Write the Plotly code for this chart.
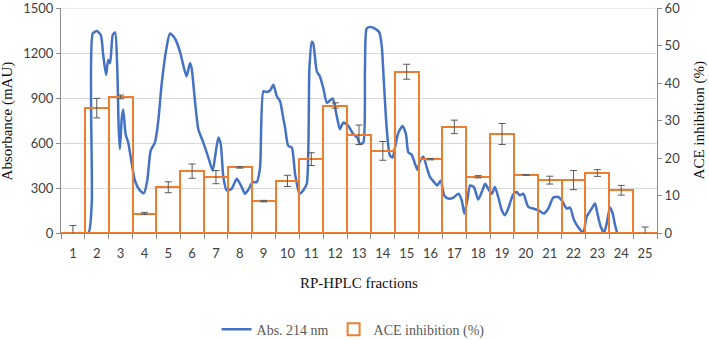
import plotly.graph_objects as go

# ---- data ----
fractions = list(range(1, 26))
ace_inhibition = [0.0, 33.3, 36.3, 5.2, 12.2, 16.5, 14.9, 17.5, 8.5, 13.9,
                  19.7, 34.0, 26.2, 21.9, 43.0, 19.7, 28.3, 15.0, 26.4, 15.5,
                  14.1, 14.1, 16.0, 11.4, 0.0]
ace_error = [2.0, 2.6, 0.5, 0.3, 1.45, 1.9, 1.75, 0.2, 0.2, 1.5,
             1.7, 0.7, 2.6, 2.5, 2.0, 0.2, 1.8, 0.3, 2.8, 0.1,
             1.05, 2.55, 0.9, 1.3, 1.6]

# chromatogram (x in fraction units, absorbance in mAU)
abs_x = [1.30, 1.65, 1.79, 1.83, 2.00, 2.17, 2.27, 2.39, 2.48, 2.56,
         2.67, 2.77, 2.86, 2.92, 2.97, 3.05, 3.11, 3.21, 3.32, 3.47,
         3.60, 3.81, 3.98, 4.12, 4.26, 4.44, 4.58, 4.72, 4.90, 5.07,
         5.28, 5.49, 5.66, 5.77, 5.91, 5.98, 6.12, 6.26, 6.47, 6.68,
         6.86, 6.96, 7.10, 7.20, 7.31, 7.45, 7.66, 7.87, 8.08, 8.22,
         8.36, 8.54, 8.71, 8.85, 8.99, 9.13, 9.27, 9.41, 9.55, 9.69,
         9.82, 9.90, 10.03, 10.18, 10.32, 10.50, 10.66, 10.81, 10.92, 11.02,
         11.08, 11.23, 11.36, 11.50, 11.65, 11.78, 11.90, 12.04, 12.20, 12.34,
         12.55, 12.76, 12.93, 13.04, 13.18, 13.25, 13.32, 13.46, 13.67, 13.85,
         13.95, 14.05, 14.16, 14.30, 14.41, 14.51, 14.65, 14.83, 14.97, 15.07,
         15.21, 15.35, 15.45, 15.56, 15.70, 15.84, 15.98, 16.15, 16.28, 16.43,
         16.57, 16.75, 16.96, 17.17, 17.31, 17.42, 17.54, 17.66, 17.82, 18.00,
         18.15, 18.29, 18.42, 18.57, 18.70, 18.84, 18.99, 19.12, 19.26, 19.47,
         19.61, 19.75, 19.89, 20.10, 20.31, 20.52, 20.76, 20.94, 21.15, 21.36,
         21.50, 21.71, 21.85, 22.02, 22.23, 22.41, 22.55, 22.76, 22.90, 23.00,
         23.14, 23.28, 23.39, 23.53, 23.64, 23.74, 23.83]
abs_y = [0, 0, 200, 1330, 1346, 1320, 1187, 1055, 1154, 1132,
         1320, 1337, 1099, 702, 560, 768, 824, 659, 603, 461,
         350, 284, 266, 350, 548, 603, 747, 989, 1209, 1330,
         1297, 1209, 1099, 1044, 1132, 1099, 879, 692, 603, 504,
         416, 504, 637, 593, 372, 284, 295, 361, 306, 262,
         289, 339, 339, 438, 945, 940, 950, 989, 912, 879,
         768, 702, 582, 570, 394, 262, 284, 328, 1099, 1275,
         1264, 1077, 1044, 967, 868, 883, 897, 802, 692, 736,
         714, 659, 637, 593, 603, 1099, 1363, 1374, 1363, 1337,
         1253, 989, 702, 515, 504, 570, 669, 714, 659, 537,
         522, 461, 421, 482, 509, 438, 372, 339, 317, 350,
         251, 229, 236, 262, 218, 130, 218, 317, 306, 223,
         273, 328, 295, 262, 306, 240, 152, 119, 163, 258,
         273, 251, 262, 174, 163, 152, 130, 163, 236, 240,
         218, 163, 170, 86, 31, 5, 108, 163, 196, 130,
         42, 2, 64, 170, 130, 53, 0]

abs_ticks = [0, 300, 600, 900, 1200, 1500]
ace_ticks = [0, 10, 20, 30, 40, 50, 60]

BLUE = "#4472C4"
ORANGE = "#ED7D31"
GRID = "#D9D9D9"
AXIS = "#8C8C8C"
TICKC = "#404040"
TICKFONT = dict(family="Lato, Liberation Sans, sans-serif", size=13, color=TICKC)
SERIF = "Liberation Serif, Times New Roman, serif"

fig = go.Figure()

fig.add_trace(go.Bar(
    x=fractions, y=ace_inhibition, yaxis="y2", name="ACE inhibition (%)",
    marker=dict(color="rgba(0,0,0,0)", line=dict(color=ORANGE, width=2)),
    error_y=dict(type="data", array=ace_error, visible=True,
                 color="#595959", thickness=1, width=3.5),
))

fig.add_trace(go.Scatter(
    x=abs_x, y=abs_y, mode="lines", name="Abs. 214 nm",
    line=dict(color=BLUE, width=2.5, shape="spline", smoothing=0.6),
))

fig.update_layout(
    width=709, height=340,
    margin=dict(l=61, r=52, t=8, b=107, autoexpand=False),
    plot_bgcolor="white", paper_bgcolor="white",
    bargap=0,
    showlegend=True,
    legend=dict(orientation="h", x=0.49, xanchor="center", y=-0.43, yanchor="middle",
                font=dict(family=SERIF, size=14, color="#595959"),
                traceorder="reversed", itemwidth=30,
                bgcolor="rgba(0,0,0,0)"),
    xaxis=dict(range=[0.5, 25.5], tickvals=fractions, ticktext=[str(f) for f in fractions],
               ticks="", showgrid=False, zeroline=False, automargin=False,
               showline=True, linecolor=AXIS, linewidth=1,
               tickfont=TICKFONT, ticklabelstandoff=8,
               minor=dict(tick0=0.5, dtick=1, ticks="outside", ticklen=5,
                          tickcolor=AXIS, showgrid=False)),
    yaxis=dict(range=[0, 1500], tickvals=abs_ticks, showgrid=True, gridcolor=GRID,
               zeroline=False, showline=True, linecolor=AXIS, linewidth=1,
               ticks="outside", ticklen=4, tickcolor=AXIS, tickfont=TICKFONT,
               ticklabeloverflow="allow", automargin=False),
    yaxis2=dict(range=[0, 60], tickvals=ace_ticks, overlaying="y", side="right",
                showgrid=False, zeroline=False, showline=True, linecolor=AXIS,
                linewidth=1, ticks="outside", ticklen=4, tickcolor=AXIS,
                tickfont=TICKFONT, ticklabeloverflow="allow", automargin=False),
    shapes=[dict(type="line", xref="paper", yref="y", x0=0, x1=1, y0=1500, y1=1500,
                 line=dict(color=GRID, width=1), layer="below")],
    annotations=[
        dict(text="RP-HPLC fractions", xref="paper", yref="paper", x=0.5, y=-0.22,
             showarrow=False, font=dict(family=SERIF, size=15, color="#111111"),
             xanchor="center", yanchor="middle"),
        dict(text="Absorbance (mAU)", xref="paper", yref="paper", x=-0.089, y=0.5,
             textangle=-90, showarrow=False,
             font=dict(family=SERIF, size=15, color="#111111"),
             xanchor="center", yanchor="middle"),
        dict(text="ACE inhibition (%)", xref="paper", yref="paper", x=1.072, y=0.5,
             textangle=-90, showarrow=False,
             font=dict(family=SERIF, size=15, color="#111111"),
             xanchor="center", yanchor="middle"),
    ],
)

fig.write_html("out.html")
